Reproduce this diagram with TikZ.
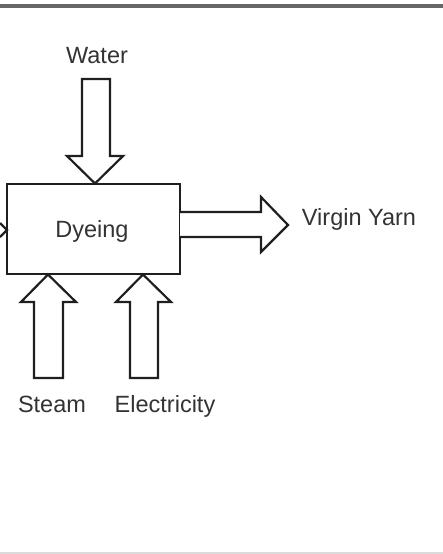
\documentclass[tikz,border=0pt]{standalone}
\usepackage{fontspec}
\setmainfont{Liberation Sans}
\begin{document}
\begin{tikzpicture}[x=1pt,y=-1pt,
  outline/.style={draw=black!88, line width=2.2pt, line join=miter, fill=white},
  lbl/.style={font=\fontsize{23.5}{26}\selectfont, text=black!80, inner sep=0pt, anchor=base}]
\useasboundingbox (0,0) rectangle (443,554);
% page borders
\fill[black!60] (0,3.5) rectangle (443,8);
\fill[black!14] (0,552) rectangle (443,554);
% process box
\node[outline, minimum width=173pt, minimum height=90pt, inner sep=0pt] (dye) at (93.5,229) {};
\node[lbl] (dyetxt) at (92,237) {Dyeing};
% incoming arrow fragment at left edge
\draw[outline, fill=none] (0,223) -- (7,230) -- (0,237);
% water arrow (down)
\draw[outline] (82,79) -- (110,79) -- (110,156) -- (123,156) -- (95,183.5) -- (67,156) -- (82,156) -- cycle;
% output arrow (right)
\draw[outline] (180,212) -- (261,212) -- (261,197) -- (288,225) -- (261,252) -- (261,237) -- (180,237);
% steam arrow (up)
\draw[outline] (34,378) -- (34,302) -- (21,302) -- (48,274.5) -- (76,302) -- (63,302) -- (63,378) -- cycle;
% electricity arrow (up)
\draw[outline] (130,378) -- (130,302) -- (116,302) -- (143,274.5) -- (171,302) -- (158,302) -- (158,378) -- cycle;
% labels
\node[lbl] (water) at (97,63) {Water};
\node[lbl] (yarn) at (359,225) {Virgin Yarn};
\node[lbl] (steam) at (52,412) {Steam};
\node[lbl] (elec) at (165,412) {Electricity};
\end{tikzpicture}
\end{document}
